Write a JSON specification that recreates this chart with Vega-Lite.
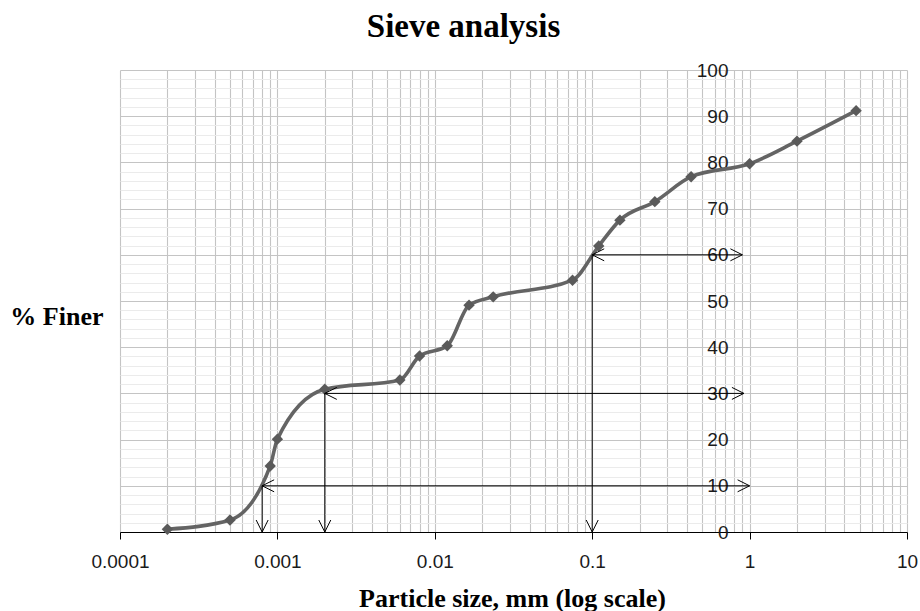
{
  "$schema": "https://vega.github.io/schema/vega-lite/v6.json",
  "autosize": {"type": "none"},
  "padding": {"left": 120, "top": 70, "right": 13, "bottom": 79},
  "width": 787,
  "height": 462,
  "background": "white",
  "config": {"view": {"stroke": null}},
  "title": {
    "text": "Sieve analysis",
    "font": "Liberation Serif",
    "fontSize": 33,
    "fontWeight": "bold",
    "color": "#000000",
    "anchor": "middle",
    "dx": -50,
    "offset": 17
  },
  "datasets": {
    "pts": [
      {"size": 0.0002, "finer": 0.6},
      {"size": 0.0005, "finer": 2.6},
      {"size": 0.0009, "finer": 14.3},
      {"size": 0.001, "finer": 20.1},
      {"size": 0.002, "finer": 30.9},
      {"size": 0.006, "finer": 32.9},
      {"size": 0.008, "finer": 38.1},
      {"size": 0.012, "finer": 40.3},
      {"size": 0.0165, "finer": 49.1},
      {"size": 0.0235, "finer": 50.9},
      {"size": 0.075, "finer": 54.5},
      {"size": 0.11, "finer": 61.9},
      {"size": 0.15, "finer": 67.5},
      {"size": 0.25, "finer": 71.5},
      {"size": 0.425, "finer": 76.9},
      {"size": 1.0, "finer": 79.7},
      {"size": 2.0, "finer": 84.6},
      {"size": 4.75, "finer": 91.2}
    ],
    "segs": [
      {"xa": 0.1, "xb": 0.9, "ya": 60, "yb": 60},
      {"xa": 0.1, "xb": 0.1, "ya": 60, "yb": 0},
      {"xa": 0.002, "xb": 0.92, "ya": 30, "yb": 30},
      {"xa": 0.002, "xb": 0.002, "ya": 30, "yb": 0},
      {"xa": 0.0008, "xb": 1.0, "ya": 10, "yb": 10},
      {"xa": 0.0008, "xb": 0.0008, "ya": 10, "yb": 0}
    ],
    "heads": [
      {"x": 0.1, "y": 60, "dir": "left"},
      {"x": 0.9, "y": 60, "dir": "right"},
      {"x": 0.1, "y": 0, "dir": "down"},
      {"x": 0.002, "y": 30, "dir": "left"},
      {"x": 0.92, "y": 30, "dir": "right"},
      {"x": 0.002, "y": 0, "dir": "down"},
      {"x": 0.0008, "y": 10, "dir": "left"},
      {"x": 1.0, "y": 10, "dir": "right"},
      {"x": 0.0008, "y": 0, "dir": "down"}
    ]
  },
  "layer": [
    {
      "data": {"name": "pts"},
      "mark": {"type": "line", "interpolate": "monotone", "color": "#646464", "strokeWidth": 3.6},
      "encoding": {
        "x": {
          "field": "size", "type": "quantitative",
          "scale": {"type": "log", "domain": [0.0001, 10], "nice": false},
          "axis": {
            "title": "Particle size, mm (log scale)",
            "titleFont": "Liberation Serif", "titleFontSize": 26, "titleFontWeight": "bold", "titleColor": "#000000",
            "titleBaseline": "alphabetic", "titleY": 74, "titleX": 392,
            "tickCount": 100,
            "values": [0.0001,0.0002,0.0003,0.0004,0.0005,0.0006,0.0007,0.0008,0.0009,
                       0.001,0.002,0.003,0.004,0.005,0.006,0.007,0.008,0.009,
                       0.01,0.02,0.03,0.04,0.05,0.06,0.07,0.08,0.09,
                       0.1,0.2,0.3,0.4,0.5,0.6,0.7,0.8,0.9,
                       1,2,3,4,5,6,7,8,9,10],
            "format": ".4~f",
            "labelExpr": "indexof([0.0001,0.001,0.01,0.1,1,10], datum.value) >= 0 ? datum.label : ''",
            "labelOverlap": false, "labelBound": false, "labelFlush": false,
            "labelFont": "Liberation Sans", "labelFontSize": 19, "labelColor": "#1a1a1a", "labelPadding": 13,
            "grid": true, "gridColor": "#c4c4c4", "gridWidth": 1.1,
            "domain": true, "domainColor": "#000000", "domainWidth": 1,
            "ticks": true, "tickSize": 7, "tickColor": "#000000",
            "tickOpacity": {"condition": {"test": "indexof([0.0001,0.001,0.01,0.1,1,10], datum.value) >= 0", "value": 1}, "value": 0}
          }
        },
        "y": {
          "field": "finer", "type": "quantitative",
          "scale": {"domain": [0, 100], "nice": false, "zero": false},
          "axis": {
            "title": "% Finer",
            "titleFont": "Liberation Serif", "titleFontSize": 26, "titleFontWeight": "bold", "titleColor": "#000000",
            "titleAngle": 0, "titleAlign": "right", "titleBaseline": "alphabetic",
            "titleX": -646, "titleY": 254,
            "offset": -629,
            "tickCount": 100,
            "values": [0,2,4,6,8,10,12,14,16,18,20,22,24,26,28,30,32,34,36,38,40,42,44,46,48,50,52,54,56,58,60,62,64,66,68,70,72,74,76,78,80,82,84,86,88,90,92,94,96,98,100],
            "labelExpr": "datum.value % 10 === 0 ? datum.label : ''",
            "labelOverlap": false, "labelBound": false, "labelFlush": false,
            "labelFont": "Liberation Sans", "labelFontSize": 19, "labelColor": "#1a1a1a", "labelPadding": 21,
            "labelBaseline": "middle",
            "domain": false, "ticks": false,
            "grid": true, "gridWidth": 1.1,
            "gridColor": {"condition": {"test": "datum.value % 10 === 0", "value": "#c4c4c4"}, "value": "#ebebeb"}
          }
        }
      }
    },
    {
      "data": {"name": "pts"},
      "mark": {"type": "point", "shape": "diamond", "filled": true, "color": "#5a5a5a", "size": 130, "opacity": 1},
      "encoding": {
        "x": {"field": "size", "type": "quantitative"},
        "y": {"field": "finer", "type": "quantitative"}
      }
    },
    {
      "data": {"name": "segs"},
      "mark": {"type": "rule", "color": "#000000", "strokeWidth": 1},
      "encoding": {
        "x": {"field": "xa", "type": "quantitative"},
        "x2": {"field": "xb"},
        "y": {"field": "ya", "type": "quantitative"},
        "y2": {"field": "yb"}
      }
    },
    {
      "data": {"name": "heads"},
      "mark": {"type": "point", "filled": false, "color": "#000000", "strokeWidth": 1, "size": 144, "opacity": 1},
      "encoding": {
        "x": {"field": "x", "type": "quantitative"},
        "y": {"field": "y", "type": "quantitative"},
        "shape": {
          "field": "dir", "type": "nominal", "legend": null,
          "scale": {"domain": ["left", "right", "down"], "range": ["M2,-1L0,0L2,1", "M-2,-1L0,0L-2,1", "M-1,-2L0,0L1,-2"]}
        }
      }
    }
  ]
}
